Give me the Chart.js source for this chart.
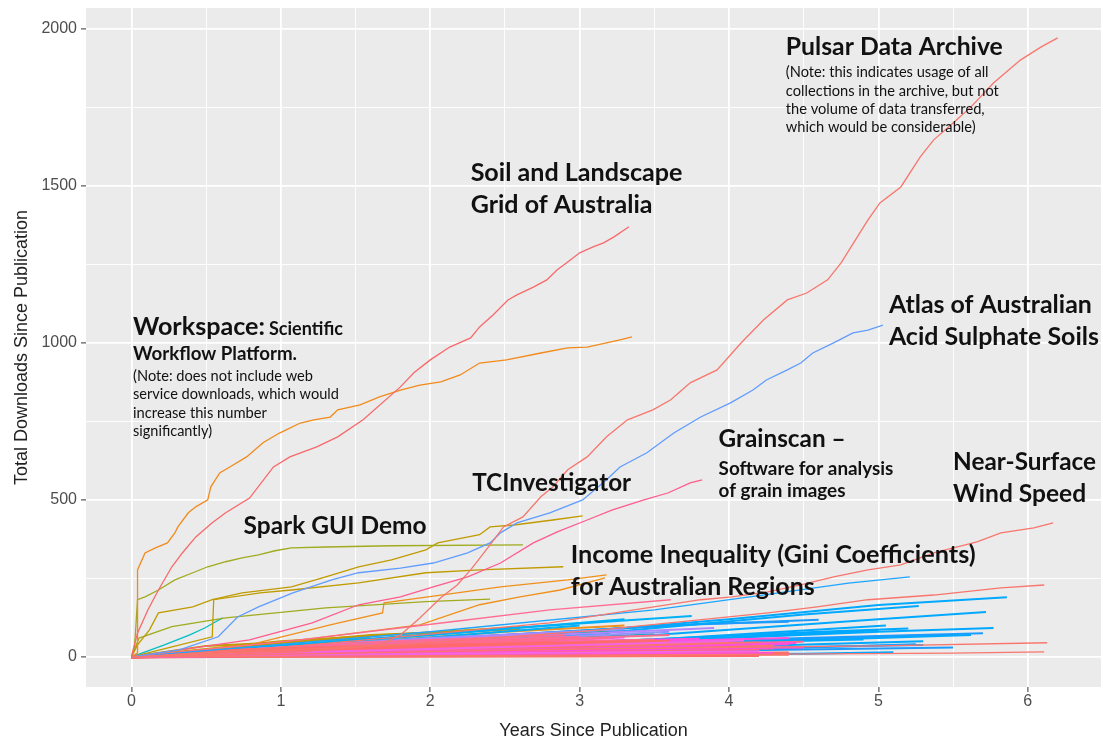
<!DOCTYPE html>
<html>
<head>
<meta charset="utf-8">
<script src="https://cdn.jsdelivr.net/npm/chart.js@4.4.1/dist/chart.umd.min.js"></script>
<style>
  body { margin: 0; background: #fff; }
  canvas { display: block; }
</style>
</head>
<body>
<canvas id="chart" width="1103" height="740"></canvas>
<script>
// ---- data: [years since publication, total downloads] ----
const pulsarArchive = [[0,0],[1.13,16],[1.66,38],[1.80,70],[1.93,124],[2.07,188],[2.18,229],[2.27,277],[2.40,357],[2.49,414],[2.62,446],[2.74,510],[2.82,541],[2.92,596],[3.05,637],[3.18,701],[3.32,755],[3.49,787],[3.61,819],[3.74,873],[3.92,914],[4.08,1000],[4.23,1073],[4.39,1137],[4.52,1159],[4.66,1201],[4.75,1255],[4.93,1392],[5.01,1446],[5.15,1497],[5.28,1593],[5.37,1647],[5.50,1701],[5.62,1752],[5.77,1828],[5.95,1901],[6.09,1943],[6.20,1972]];
const soilLandscape = [[0,0],[0.005,13],[0.04,76],[0.11,150],[0.18,213],[0.27,287],[0.34,331],[0.43,382],[0.54,427],[0.63,459],[0.79,506],[0.95,605],[1.06,637],[1.24,669],[1.38,701],[1.55,755],[1.80,860],[1.89,905],[2.00,946],[2.13,987],[2.27,1016],[2.33,1051],[2.42,1089],[2.52,1137],[2.58,1153],[2.69,1178],[2.78,1201],[2.85,1233],[2.92,1258],[3.00,1287],[3.09,1306],[3.16,1319],[3.23,1338],[3.33,1370]];
const workspace = [[0,0],[0.04,13],[0.04,277],[0.09,331],[0.16,347],[0.24,363],[0.29,395],[0.31,414],[0.38,459],[0.43,478],[0.51,500],[0.53,541],[0.59,586],[0.68,611],[0.77,637],[0.88,682],[0.99,713],[1.13,745],[1.22,755],[1.33,764],[1.38,787],[1.53,803],[1.66,828],[1.80,850],[1.93,866],[2.07,876],[2.20,898],[2.33,936],[2.51,946],[2.74,968],[2.92,984],[3.05,987],[3.27,1010],[3.35,1019]];
const atlasSoils = [[0,0],[0.32,22],[0.58,64],[0.71,127],[0.85,159],[1.08,204],[1.34,245],[1.52,268],[1.80,283],[2.02,299],[2.25,331],[2.40,363],[2.47,395],[2.58,427],[2.80,459],[3.02,500],[3.18,564],[3.27,605],[3.45,650],[3.63,713],[3.81,764],[4.01,809],[4.16,850],[4.25,882],[4.39,914],[4.48,936],[4.56,968],[4.70,1000],[4.83,1032],[4.93,1041],[5.03,1057]];
const grainscan = [[0,0],[0.79,54],[1.21,108],[1.52,166],[1.80,191],[2.02,223],[2.25,255],[2.47,299],[2.69,363],[2.85,398],[3.05,436],[3.22,468],[3.43,500],[3.59,522],[3.74,554],[3.82,564]];
const sparkDemo = [[0,0],[0.02,32],[0.04,182],[0.09,191],[0.18,213],[0.29,245],[0.41,268],[0.51,287],[0.63,303],[0.74,315],[0.85,325],[0.96,338],[1.07,347],[1.30,350],[1.74,354],[2.62,357]];
const tcInvestigator = [[0,0],[0.04,38],[0.12,86],[0.18,140],[0.41,159],[0.54,182],[0.74,204],[1.07,223],[1.30,255],[1.52,287],[1.74,309],[1.97,341],[2.05,363],[2.33,389],[2.40,414],[2.56,420],[2.82,436],[3.02,449]];
const goldSecond = [[0,0],[0.19,22],[0.54,64],[0.55,182],[0.86,204],[1.07,213],[1.52,236],[1.97,268],[2.33,277],[2.89,287]];
const oliveSecond = [[0,0],[0.05,60],[0.27,96],[0.63,124],[1.30,156],[1.97,176],[2.40,184]];
const cyanShort = [[0,0],[0.22,38],[0.39,70],[0.49,92],[0.56,111],[0.61,124]];
const nearSurfaceWind = [[0,0],[0.79,22],[1.80,64],[2.80,108],[3.81,182],[4.02,191],[4.26,207],[4.48,229],[4.70,255],[4.93,277],[5.15,293],[5.37,331],[5.66,366],[5.82,395],[6.04,411],[6.17,427]];
const incomeInequality = [[0,0],[2.0,80],[3.5,150],[4.2,195],[4.8,235],[5.21,255]];
const redSecond = [[0,0],[1.80,38],[3.14,86],[4.26,140],[4.59,159],[4.93,182],[5.37,197],[5.82,220],[6.11,229]];
const redLowA = [[0,0],[3.0,25],[5.0,35],[6.13,45]];
const redLowB = [[0,0],[4.0,8],[5.5,12],[6.11,16]];
const pinkSecond = [[0,0],[1.13,54],[2.13,111],[2.80,150],[3.61,182]];
const orangeFirst = [[0,0],[0.79,38],[1.33,102],[1.68,140],[1.69,172],[2.07,197],[2.47,223],[2.92,245],[3.18,261]];
const orangeSecond = [[0,0],[1.13,54],[1.93,102],[2.33,166],[2.60,191],[2.87,213],[3.17,252]];

// the crowd of small datasets near zero
const minorLines = [
  [[0,0],[2.6,12],[4.2,18]],
  [[0,0],[3.0,22],[4.5,30]],
  [[0,0],[3.2,40],[4.1,52]],
  [[0,0],[2.8,8],[4.3,12]],
  [[0,0],[3.4,30],[4.45,44]],
  [[0,0],[1.0,8],[2.2,14],[3.4,18]],
  [[0,0],[1.3,14],[2.9,24],[4.0,28]],
  [[0,0],[0.9,16],[2.0,28],[3.1,36]],
  [[0,0],[1.6,22],[3.1,38],[4.2,44]],
  [[0,0],[1.1,5],[3.0,10],[4.4,12]],
  [[0,0],[2.2,9],[3.8,16]],
  [[0,0],[1.4,28],[2.6,42],[3.6,50]],
  [[0,0],[0.7,10],[1.9,20],[2.9,30]],
  [[0,0],[2.6,20],[4.3,28]],
  [[0,0],[1.7,3],[3.6,6]],
  [[0,0],[0.6,20],[1.6,33],[2.4,40]],
  [[0,0],[1.9,32],[3.4,48]],
  [[0,0],[1.2,2],[2.8,3],[4.2,4]],
  [[0,0],[2.3,16],[3.5,26]],
  [[0,0],[1.5,15],[3.2,30],[4.3,38]],
  [[0,0],[1.0,10],[2.5,22],[3.9,30]],
  [[0,0],[2.0,12],[3.6,20]],
  [[0,0],[1.5,6],[4.1,14]],
  [[0,0],[2.5,30],[3.3,40]],
  [[0,0],[1.2,20],[2.8,45]],
  [[0,0],[2.0,4],[4.4,8]],
  [[0,0],[3.0,18],[4.2,25]],
  [[0,0],[1.8,25],[3.0,35]],
  [[0,0],[0.8,12],[2.2,26]],
  [[0,0],[1.5,30],[3.5,55]],
  [[0,0],[2.0,40],[3.2,60]],
  [[0,0],[1.0,20],[2.6,50]],
  [[0,0],[2.5,25],[4.0,42]],
  [[0,0],[1.5,45],[2.9,70]],
  [[0,0],[3.0,35],[4.5,48]],
  [[0,0],[1.4,36],[2.4,55],[3.0,64]],
  [[0,0],[2.2,48],[3.6,70]],
  [[0,0],[2.0,20],[4.3,35]],
  [[0,0],[3.0,28],[4.4,40]],
  [[0,0],[1.5,10],[3.9,22]],
  [[0,0],[2.5,45],[3.8,58]],
  [[0,0],[2.0,35],[3.3,62]],
  [[0,0],[3.5,50],[4.4,60]],
  [[0,0],[1.0,18],[2.7,40]],
  [[0,0],[1.5,45],[2.8,75]],
  [[0,0],[2.5,55],[3.6,80]],
  [[0,0],[1.0,25],[2.2,50]],
  [[0,0],[2.0,60],[3.3,88]],
  [[0,0],[2.8,70],[3.9,92]],
  [[0,0],[2.5,60],[4.0,120],[5.0,165],[5.86,190]],
  [[0,0],[3.0,70],[4.5,135],[5.27,162]],
  [[0,0],[3.5,70],[5.0,120],[5.72,143]],
  [[0,0],[3.0,40],[5.0,80],[5.77,92]],
  [[0,0],[4.0,45],[5.62,70]],
  [[0,0],[2.5,30],[4.5,60],[5.7,75]],
  [[0,0],[3.0,20],[5.3,38]],
  [[0,0],[4.0,20],[5.5,30]],
  [[0,0],[3.5,55],[5.05,100]],
  [[0,0],[2.0,50],[3.4,95]],
  [[0,0],[1.5,35],[3.0,80]],
  [[0,0],[2.8,35],[4.9,55]],
  [[0,0],[4.5,10],[5.1,15]],
  [[0,0],[2.2,62],[3.6,100],[4.6,118]],
  [[0,0],[3.2,50],[4.6,80],[5.2,90]],
  [[0,0],[3.8,30],[5.3,50]],
  [[0,0],[3.6,40],[4.8,62],[5.4,70]],
  [[0,0],[3.9,60],[5.0,85]],
  [[0,0],[4.2,25],[5.25,40]],
  [[0,0],[2.7,75],[3.8,105],[4.4,112]],
  [[0,0],[2.0,70],[3.3,120]],
  [[0,0],[2.5,90],[3.75,130]],
  [[0,0],[1.2,40],[2.4,85]],
  [[0,0],[1.9,58],[3.0,100]],
  [[0,0],[1.5,40],[3.0,70]],
  [[0,0],[1.0,30],[2.3,65]],
  [[0,0],[2.0,55],[3.2,75]],
  [[0,0],[2.4,66],[3.3,82]],
  [[0,0],[1.8,50],[2.7,68]],
  [[0,0],[2.2,45],[3.5,72]],
  [[0,0],[1.5,45],[2.5,80],[3.3,100]],
  [[0,0],[1.2,30],[2.2,55]],
  [[0,0],[1.0,50],[2.6,95]],
  [[0,0],[1.6,70],[2.6,88]],
  [[0,0],[0.5,35],[1.6,60]]
];
const minorColors = [
  '#F564E3','#FF4FDC','#F564E3','#FF4FDC','#FF4FDC',
  '#FF6B6B','#F8766D','#FF6B6B','#F8766D','#FF6B6B','#F8766D','#FF6B6B',
  '#F8766D','#FF6B6B','#F8766D','#FF6B6B','#F8766D','#FF6B6B','#F8766D',
  '#F8766D','#FF6A6A','#F8766D','#FF6A6A','#F8766D','#FF6A6A','#F8766D','#FF6A6A','#F8766D','#FF6A6A',
  '#FF6C91','#FF6C91','#FF6C91','#FF6C91','#FF6C91','#FF6C91','#FF6C91','#FF6C91',
  '#F564E3','#FF4FDC','#F564E3','#FF4FDC','#F564E3','#FF4FDC','#F564E3',
  '#B385FF','#9590FF','#B385FF','#9590FF','#B385FF',
  '#00A9FF','#00A9FF','#00A9FF','#00A9FF','#00A9FF','#1E9BFF','#1E9BFF','#1E9BFF','#00A9FF','#00A9FF','#1E9BFF','#00A9FF','#00A9FF',
  '#1E9BFF','#00A9FF','#00A9FF','#1E9BFF','#00A9FF','#00A9FF','#1E9BFF',
  '#00B0F6','#00B0F6','#00B0F6','#00B0F6',
  '#00BA38','#00BA38','#00BA38','#00BA38','#00C08B','#00C08B',
  '#F0901C','#F0901C','#C49A00','#C49A00','#C49A00'
];
const minorWidths = { '#FF6B6B': 3, '#F8766D': 3, '#FF6A6A': 3 };

const yearTicks = [0, 0.5, 1, 1.5, 2, 2.5, 3, 3.5, 4, 4.5, 5, 5.5, 6];
const downloadTicks = [0, 250, 500, 750, 1000, 1250, 1500, 1750, 2000];
const yearLabels = ['0', '1', '2', '3', '4', '5', '6'];
const downloadLabels = ['0', '500', '1000', '1500', '2000'];

// annotations: text, x (years), y (downloads), target width in px, bold
const notes = [
  ['Workspace:', 0.01, 1026, 132, true],
  ['Scientific', 0.92, 1026, 74, true],
  ['Workflow Platform.', 0.01, 946, 164, true],
  ['(Note: does not include web', 0.01, 879, 180, false],
  ['service downloads, which would', 0.01, 822, 206, false],
  ['increase this number', 0.01, 761, 134, false],
  ['significantly)', 0.01, 704, 79, false],
  ['Spark GUI Demo', 0.75, 392, 183, true],
  ['Soil and Landscape', 2.27, 1516, 212, true],
  ['Grid of Australia', 2.27, 1414, 182, true],
  ['TCInvestigator', 2.28, 529, 159, true],
  ['Grainscan \u2013', 3.93, 669, 127, true],
  ['Software for analysis', 3.93, 580, 175, true],
  ['of grain images', 3.93, 510, 127, true],
  ['Near-Surface', 5.50, 596, 143, true],
  ['Wind Speed', 5.50, 494, 133, true],
  ['Income Inequality (Gini Coefficients)', 2.94, 299, 405, true],
  ['for Australian Regions', 2.94, 197, 244, true],
  ['Pulsar Data Archive', 4.38, 1917, 217, true],
  ['(Note: this indicates usage of all', 4.38, 1847, 203, false],
  ['collections in the archive, but not', 4.38, 1787, 213, false],
  ['the volume of data transferred,', 4.38, 1729, 199, false],
  ['which would be considerable)', 4.38, 1672, 190, false],
  ['Atlas of Australian', 5.07, 1096, 203, true],
  ['Acid Sulphate Soils', 5.07, 994, 210, true]
];

const majorSeries = [
  [pulsarArchive, '#F8766D'],
  [soilLandscape, '#F8696B'],
  [workspace, '#F28A1C'],
  [atlasSoils, '#619CFF'],
  [grainscan, '#FF5C8D'],
  [sparkDemo, '#A0AB1E'],
  [tcInvestigator, '#C09B00'],
  [goldSecond, '#C09B00'],
  [oliveSecond, '#A0AB1E'],
  [cyanShort, '#00BFC4'],
  [nearSurfaceWind, '#F8766D'],
  [incomeInequality, '#1EA5FF'],
  [redSecond, '#F8766D'],
  [redLowA, '#F8766D'],
  [redLowB, '#F8766D'],
  [pinkSecond, '#FF6C91'],
  [orangeFirst, '#F0901C'],
  [orangeSecond, '#F0901C']
];

let datasets = [];
majorSeries.forEach(s => {
  datasets.push({ data: s[0], borderColor: s[1], borderWidth: 1.3 });
});
minorLines.forEach((pts, i) => {
  const c = minorColors[i];
  datasets.push({ data: pts, borderColor: c, borderWidth: minorWidths[c] || 2 });
});

const panelBg = {
  id: 'panelBg',
  beforeDraw(chart) {
    const { ctx, chartArea: a } = chart;
    ctx.save();
    ctx.fillStyle = '#EBEBEB';
    ctx.fillRect(a.left, a.top, a.right - a.left, a.bottom - a.top);
    ctx.restore();
  }
};

const noteText = {
  id: 'noteText',
  afterDatasetsDraw(chart) {
    const { ctx, scales } = chart;
    ctx.save();
    ctx.fillStyle = '#111';
    ctx.textBaseline = 'alphabetic';
    ctx.textAlign = 'left';
    notes.forEach(n => {
      const weight = n[4] ? 'bold ' : '';
      ctx.font = weight + '20px Lato';
      const size = 20 * n[3] / ctx.measureText(n[0]).width;
      ctx.font = weight + size.toFixed(2) + 'px Lato';
      ctx.fillText(n[0], scales.x.getPixelForValue(n[1]), scales.y.getPixelForValue(n[2]));
    });
    ctx.restore();
  }
};

const tickFont = { family: 'Liberation Sans', size: 16 };
const titleFont = { family: 'Liberation Sans', size: 18, lineHeight: 1 };

new Chart(document.getElementById('chart'), {
  type: 'line',
  data: { datasets },
  plugins: [panelBg, noteText],
  options: {
    responsive: false,
    animation: false,
    layout: { padding: { top: 8, right: 2, left: 0, bottom: 0 } },
    elements: { point: { radius: 0 }, line: { tension: 0, fill: false } },
    plugins: { legend: { display: false }, tooltip: { enabled: false } },
    scales: {
      x: {
        type: 'linear',
        min: -0.305,
        max: 6.49,
        afterBuildTicks: ax => { ax.ticks = yearTicks.map(v => ({ value: v })); },
        afterFit: ax => { ax.height = 53; ax.paddingLeft = 0; ax.paddingRight = 0; },
        ticks: {
          autoSkip: false,
          maxRotation: 0,
          padding: 0,
          color: '#4D4D4D',
          font: tickFont,
          callback: v => Number.isInteger(v) ? yearLabels[v] : ''
        },
        grid: {
          color: '#FFFFFF',
          lineWidth: c => Number.isInteger(c.tick.value) ? 1.8 : 0.9,
          tickColor: c => Number.isInteger(c.tick.value) ? '#333333' : 'rgba(0,0,0,0)',
          tickLength: 5,
          tickWidth: 1
        },
        border: { display: false },
        title: { display: true, text: 'Years Since Publication', color: '#222', font: titleFont, padding: { top: 0, bottom: 0 } }
      },
      y: {
        type: 'linear',
        min: -96,
        max: 2067,
        afterBuildTicks: ax => { ax.ticks = downloadTicks.map(v => ({ value: v })); },
        afterFit: ax => { ax.width = 86; ax.paddingTop = 0; ax.paddingBottom = 0; },
        ticks: {
          autoSkip: false,
          padding: 4,
          color: '#4D4D4D',
          font: tickFont,
          callback: v => v % 500 === 0 ? downloadLabels[v / 500] : ''
        },
        grid: {
          color: '#FFFFFF',
          lineWidth: c => c.tick.value % 500 === 0 ? 1.8 : 0.9,
          tickColor: c => c.tick.value % 500 === 0 ? '#333333' : 'rgba(0,0,0,0)',
          tickLength: 5,
          tickWidth: 1
        },
        border: { display: false },
        title: { display: true, text: 'Total Downloads Since Publication', color: '#222', font: titleFont, padding: { top: 13, bottom: 0 } }
      }
    }
  }
});
</script>
</body>
</html>
